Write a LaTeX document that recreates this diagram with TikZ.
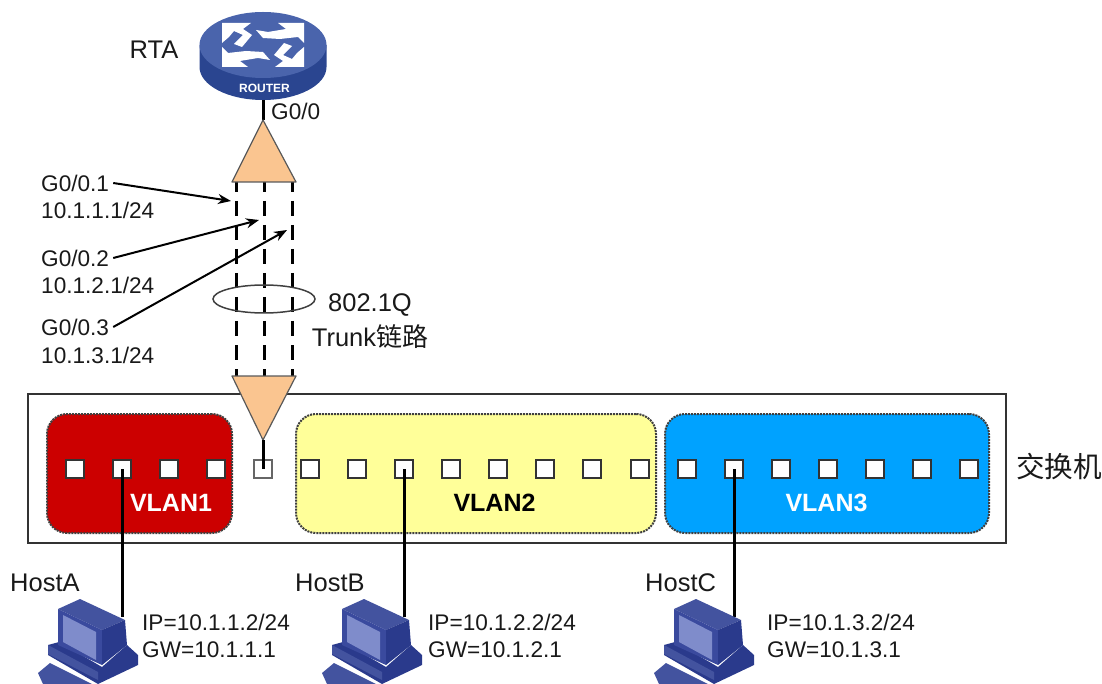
\documentclass[tikz,border=0pt]{standalone}
\usepackage{fontspec}
\usetikzlibrary{arrows.meta}
\setmainfont{Liberation Sans}
\newfontfamily\cjk{Noto Sans CJK SC}
\definecolor{routertop}{HTML}{4A64AC}
\definecolor{routerside}{HTML}{2A4590}
\definecolor{tribg}{HTML}{FAC590}
\definecolor{vlanred}{HTML}{CC0000}
\definecolor{vlanyellow}{HTML}{FFFF99}
\definecolor{vlanblue}{HTML}{00A2FF}
\definecolor{pcface}{HTML}{3A4A9E}
\definecolor{pctop}{HTML}{43539F}
\definecolor{pcside}{HTML}{2A3A8C}
\definecolor{pcscreen}{HTML}{7F8CCB}
\tikzset{
    lbl/.style={font=\fontsize{22.6}{27}\selectfont,inner sep=0pt,text=black!90},
    biglbl/.style={font=\fontsize{25.5}{30}\selectfont,inner sep=0pt,text=black!90},
    vlanlbl/.style={font=\fontsize{25}{30}\selectfont\bfseries,inner sep=0pt},
    vlanbox/.style={draw=black!75,densely dotted,line width=2pt,rounded corners=20pt,inner sep=0pt},
    portbox/.style={draw=black!80,line width=1.3pt,fill=white,minimum size=18pt,inner sep=0pt},
    wire/.style={line width=3pt},
    trunk/.style={line width=3pt,dash pattern=on 15pt off 9pt,dash phase=5pt},
    pointer/.style={line width=2pt,-{Stealth[length=13pt,width=10pt]}},
    tri/.style={draw=black!65,line width=1.2pt,fill=tribg,line join=round},
    pcicon/.pic={
        \fill[pcside] (18,55) -- (29,52) -- (72,77) -- (97,55) -- (108,65) -- (108,75) -- (68,94) -- (18,65) -- cycle;
        \fill[pctop] (8,83) -- (20,73) -- (62,94) -- (13,94) -- cycle;
        \fill[pctop] (18,55) -- (68,82) -- (68,90) -- (18,64) -- cycle;
        \fill[pctop] (28,19) -- (50,9) -- (95,30) -- (72,40) -- cycle;
        \fill[pcface] (28,19) -- (72,40) -- (72,75) -- (28,55) -- cycle;
        \fill[pcside] (72,40) -- (95,30) -- (97,55) -- (72,75) -- cycle;
        \fill[pcscreen] (33,25) -- (66,42) -- (66,70) -- (33,52) -- cycle;
    }
}
\begin{document}
\begin{tikzpicture}[x=1pt,y=-1pt]
    \useasboundingbox (0,0) rectangle (1102,684);
    \clip (0,0) rectangle (1102,684);
    % router
    \coordinate (rtaport) at (263,100);
    \fill[routerside] (199.5,45) -- (199.5,67) arc[start angle=180,end angle=360,x radius=63.5,y radius=-33] -- (326.5,45) -- cycle;
    \fill[routertop] (263,45) ellipse [x radius=63.5,y radius=33];
    \begin{scope}[shift={(263,45)}]
        \foreach \r in {0,180}{
            \fill[white,rotate=\r] (-41,-22) -- (-12,-22) -- (-20,-16) -- (-11,-10) -- (-21,2) -- (-29,-1) -- (-20,-10) -- (-29,-14) -- (-34,-8) -- (-41,-2) -- cycle;
            \fill[white,rotate=\r] (41,-22) -- (41,-2) -- (35,-8) -- (17,-6) -- (0,-7) -- (-7,-15) -- (5,-13) -- (23,-16) -- (15,-22) -- cycle;
        }
    \end{scope}
    \node[font=\fontsize{12}{14}\selectfont\bfseries,text=white,inner sep=0pt] (routerlbl) at (264.5,88.5) {ROUTER};
    \node[biglbl] (rta) at (154,50) {RTA};
    \node[lbl,anchor=west] (gzero) at (271,111) {G0/0};
    % trunk
    \coordinate (upapex) at (263,120);
    \coordinate (upl) at (232,182);
    \coordinate (upm) at (264,182);
    \coordinate (upr) at (296,182);
    \coordinate (downapex) at (263,440);
    \coordinate (downl) at (232,376);
    \coordinate (downm) at (264,376);
    \coordinate (downr) at (296,376);
    \draw[wire] (rtaport) -- (upapex);
    \draw[trunk] (236.5,182) -- (236.5,376);
    \draw[trunk] (upm) -- (downm);
    \draw[trunk] (292,182) -- (292,376);
    \draw[tri] (upapex) -- (upr) -- (upl) -- cycle;
    \draw[line width=1.5pt,draw=black!75] (264,299) ellipse [x radius=51,y radius=14];
    \node[biglbl] (dotq) at (370,305) {802.1Q};
    \node[biglbl] (trunklbl) at (370,337) {Trunk{\cjk\fontsize{26}{30}\selectfont 链路}};
    % subinterfaces
    \node[lbl,anchor=west] (gone) at (41,183) {G0/0.1};
    \node[lbl,anchor=west] (ipone) at (41,210) {10.1.1.1/24};
    \node[lbl,anchor=west] (gtwo) at (41,258) {G0/0.2};
    \node[lbl,anchor=west] (iptwo) at (41,285) {10.1.2.1/24};
    \node[lbl,anchor=west] (gthree) at (41,327) {G0/0.3};
    \node[lbl,anchor=west] (ipthree) at (41,355) {10.1.3.1/24};
    \coordinate (subone) at (231,201);
    \coordinate (subtwo) at (259,220);
    \coordinate (subthree) at (287,230);
    \draw[pointer] (gone.east)+(4,0) -- (subone);
    \draw[pointer] (gtwo.east)+(4,0) -- (subtwo);
    \draw[pointer] (gthree.east)+(4,0) -- (subthree);
    % switch
    \node[draw=black!80,line width=1.2pt,fill=white,minimum width=978pt,minimum height=149pt,inner sep=0pt] (switch) at (517,468.5) {};
    \node[lbl,font=\cjk\fontsize{28.6}{32}\selectfont] (switchlbl) at (1059,467) {交换机};
    \node[vlanbox,fill=vlanred,minimum width=185pt,minimum height=119pt] (vlanone) at (139.5,473.5) {};
    \node[vlanbox,fill=vlanyellow,minimum width=360pt,minimum height=119pt] (vlantwo) at (476,473.5) {};
    \node[vlanbox,fill=vlanblue,minimum width=324pt,minimum height=119pt] (vlanthree) at (827,473.5) {};
    \draw[tri] (downl) -- (downr) -- (downapex) -- cycle;
    \foreach \x/\n in {75/1,122/2,169/3,216/4,310/6,357/7,404/8,451/9,498/10,545/11,592/12,640/13,687/14,734/15,781/16,828/17,875/18,922/19,969/20}
        \node[portbox] (port\n) at (\x,469) {};
    \node[portbox,draw=black!60] (port5) at (263,469) {};
    \draw[wire] (downapex) -- (port5.center);
    \node[vlanlbl,text=white] (vlanonelbl) at (171,503) {VLAN1};
    \node[vlanlbl,text=black] (vlantwolbl) at (494.5,503) {VLAN2};
    \node[vlanlbl,text=white] (vlanthreelbl) at (826.5,503) {VLAN3};
    % hosts
    \coordinate (pca) at (122,617);
    \coordinate (pcb) at (404,617);
    \coordinate (pcc) at (734,617);
    \draw[wire] (port2.center) -- (pca);
    \draw[wire] (port8.center) -- (pcb);
    \draw[wire] (port15.center) -- (pcc);
    \pic at (30,590) {pcicon};
    \pic at (314,590) {pcicon};
    \pic at (646,590) {pcicon};
    \node[biglbl,anchor=west] (hosta) at (10,583) {HostA};
    \node[biglbl,anchor=west] (hostb) at (295,583) {HostB};
    \node[biglbl,anchor=west] (hostc) at (645,583) {HostC};
    \node[lbl,anchor=west] (ipa) at (142,622) {IP=10.1.1.2/24};
    \node[lbl,anchor=west] (gwa) at (142,650) {GW=10.1.1.1};
    \node[lbl,anchor=west] (ipb) at (428,622) {IP=10.1.2.2/24};
    \node[lbl,anchor=west] (gwb) at (428,650) {GW=10.1.2.1};
    \node[lbl,anchor=west] (ipc) at (767,622) {IP=10.1.3.2/24};
    \node[lbl,anchor=west] (gwc) at (767,650) {GW=10.1.3.1};
\end{tikzpicture}
\end{document}
